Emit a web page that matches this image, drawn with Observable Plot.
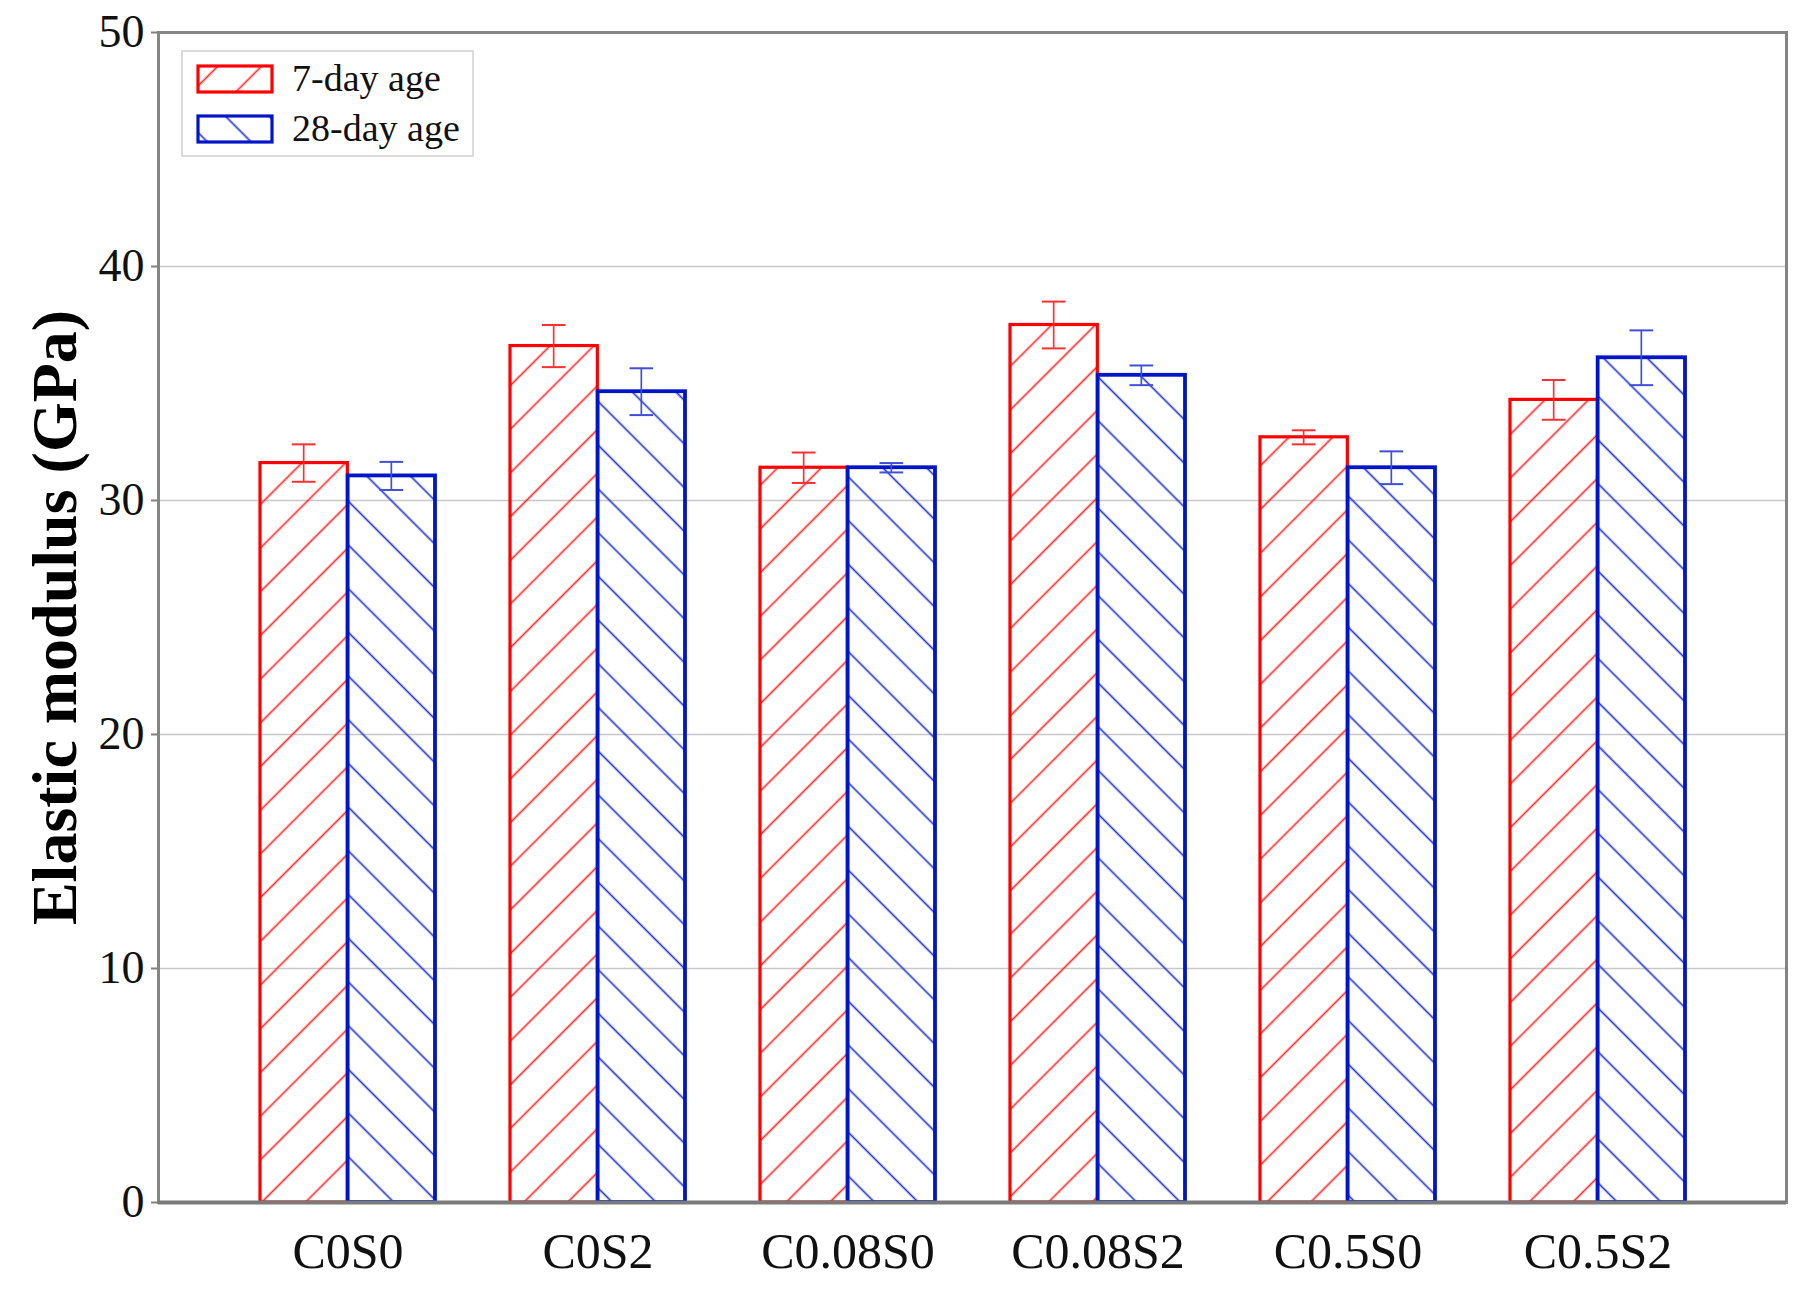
<!DOCTYPE html>
<html>
<head>
<meta charset="utf-8">
<script src="https://cdn.jsdelivr.net/npm/d3@7"></script>
<script src="https://cdn.jsdelivr.net/npm/@observablehq/plot@0.6"></script>
<style>
  html, body { margin: 0; padding: 0; background: #fff; }
  #chart svg { display: block; }
</style>
</head>
<body>
<div id="chart"></div>
<script>
// ---- data ----
const groups = ["C0S0", "C0S2", "C0.08S0", "C0.08S2", "C0.5S0", "C0.5S2"];
const series = ["7-day age", "28-day age"];
const day7 = [31.6, 36.6, 31.4, 37.5, 32.7, 34.3];
const day7Err = [0.8, 0.9, 0.65, 1.0, 0.3, 0.85];
const day28 = [31.05, 34.65, 31.4, 35.35, 31.4, 36.1];
const day28Err = [0.6, 1.0, 0.2, 0.42, 0.7, 1.17];
const yTicks = [0, 10, 20, 30, 40, 50];
const gridTicks = [10, 20, 30, 40];
const yTitle = "Elastic modulus (GPa)";

// ---- layout ----
const W = 1809, H = 1299;
const margin = {left: 158, right: 23, top: 32, bottom: 97};
const padInner = 0.3, padOuter = 0.4;
const step = (W - margin.left - margin.right) / (groups.length - padInner + 2 * padOuter);
const bw = step * (1 - padInner);
const capW = 24;
const stemW = 2;
const RED = "#ff0000", BLUE = "#0014c8";
const font = "'Liberation Serif', 'Times New Roman', serif";

const rows7 = groups.map((g, i) => ({group: g, value: day7[i], err: day7Err[i]}));
const rows28 = groups.map((g, i) => ({group: g, value: day28[i], err: day28Err[i]}));

const redCenter = bw / 4, blueCenter = 3 * bw / 4;

const plot = Plot.plot({
  width: W,
  height: H,
  marginLeft: margin.left,
  marginRight: margin.right,
  marginTop: margin.top,
  marginBottom: margin.bottom,
  style: {fontFamily: font, background: "#fff", color: "#000"},
  x: {domain: groups, paddingInner: padInner, paddingOuter: padOuter, label: null},
  y: {domain: [0, 50], label: null},
  marks: [
    Plot.gridY(gridTicks, {stroke: "#c8c8c8", strokeOpacity: 1, strokeWidth: 1.5}),
    // bars
    Plot.barY(rows7, {x: "group", y: "value", fill: "url(#hatch7)", stroke: RED, strokeWidth: 3.2, insetRight: bw / 2}),
    Plot.barY(rows28, {x: "group", y: "value", fill: "url(#hatch28)", stroke: BLUE, strokeWidth: 3.8, insetLeft: bw / 2}),
    // error stems
    Plot.barY(rows7, {x: "group", y1: d => d.value - d.err, y2: d => d.value + d.err, fill: "#ff3030",
      insetLeft: redCenter - stemW / 2, insetRight: bw - redCenter - stemW / 2}),
    Plot.barY(rows28, {x: "group", y1: d => d.value - d.err, y2: d => d.value + d.err, fill: "#3f50d6",
      insetLeft: blueCenter - stemW / 2, insetRight: bw - blueCenter - stemW / 2}),
    // caps
    Plot.tickY(rows7, {x: "group", y: d => d.value + d.err, stroke: "#ff3030", strokeWidth: 2,
      insetLeft: redCenter - capW / 2, insetRight: bw - redCenter - capW / 2}),
    Plot.tickY(rows7, {x: "group", y: d => d.value - d.err, stroke: "#ff3030", strokeWidth: 2,
      insetLeft: redCenter - capW / 2, insetRight: bw - redCenter - capW / 2}),
    Plot.tickY(rows28, {x: "group", y: d => d.value + d.err, stroke: "#3f50d6", strokeWidth: 2,
      insetLeft: blueCenter - capW / 2, insetRight: bw - blueCenter - capW / 2}),
    Plot.tickY(rows28, {x: "group", y: d => d.value - d.err, stroke: "#3f50d6", strokeWidth: 2,
      insetLeft: blueCenter - capW / 2, insetRight: bw - blueCenter - capW / 2}),
    // frame & axes
    Plot.frame({stroke: "#858585", strokeWidth: 3}),
    Plot.ruleY([0], {stroke: "#7a7a7a", strokeWidth: 4}),
    Plot.axisY({ticks: yTicks, tickSize: 7, tickPadding: 7, fontSize: 46, label: null, stroke: "#808080", strokeWidth: 2, fill: "#111"}),
    Plot.axisX({tickSize: 0, tickPadding: 30, fontSize: 50, label: null, fill: "#111"}),
    Plot.text([yTitle], {text: d => d, frameAnchor: "left", textAnchor: "middle", lineAnchor: "middle", rotate: -90, dx: -103, fontSize: 64, fontWeight: "bold", fill: "#000"})
  ]
});

// ---- hatch patterns ----
const svg = d3.select(plot);
const defs = svg.insert("defs", ":first-child");
const sp = 43.7 / Math.SQRT2;
function hatch(id, color, angle) {
  const p = defs.append("pattern")
    .attr("id", id)
    .attr("patternUnits", "userSpaceOnUse")
    .attr("width", sp)
    .attr("height", sp)
    .attr("patternTransform", `rotate(${angle})`);
  p.append("line")
    .attr("x1", sp / 2).attr("y1", -1)
    .attr("x2", sp / 2).attr("y2", sp + 1)
    .attr("stroke", color)
    .attr("stroke-width", 1.7);
}
hatch("hatch7", "#ff2a2a", 45);
hatch("hatch28", "#2536cc", -45);

// ---- legend ----
const lg = svg.append("g").attr("font-family", font).attr("text-anchor", "start");
lg.append("rect").attr("x", 182).attr("y", 51).attr("width", 291).attr("height", 105)
  .attr("fill", "#fff").attr("stroke", "#cfcfcf").attr("stroke-width", 1.5);
const legendItems = [
  {label: series[0], fill: "url(#hatch7)", stroke: RED, y: 66},
  {label: series[1], fill: "url(#hatch28)", stroke: BLUE, y: 116}
];
for (const it of legendItems) {
  lg.append("rect").attr("x", 198).attr("y", it.y).attr("width", 74).attr("height", 26)
    .attr("fill", it.fill).attr("stroke", it.stroke).attr("stroke-width", 3.2);
  lg.append("text").attr("x", 292).attr("y", it.y + 25).attr("font-size", 38)
    .attr("text-anchor", "start").attr("fill", "#111").text(it.label);
}

document.getElementById("chart").appendChild(plot);
</script>
</body>
</html>
